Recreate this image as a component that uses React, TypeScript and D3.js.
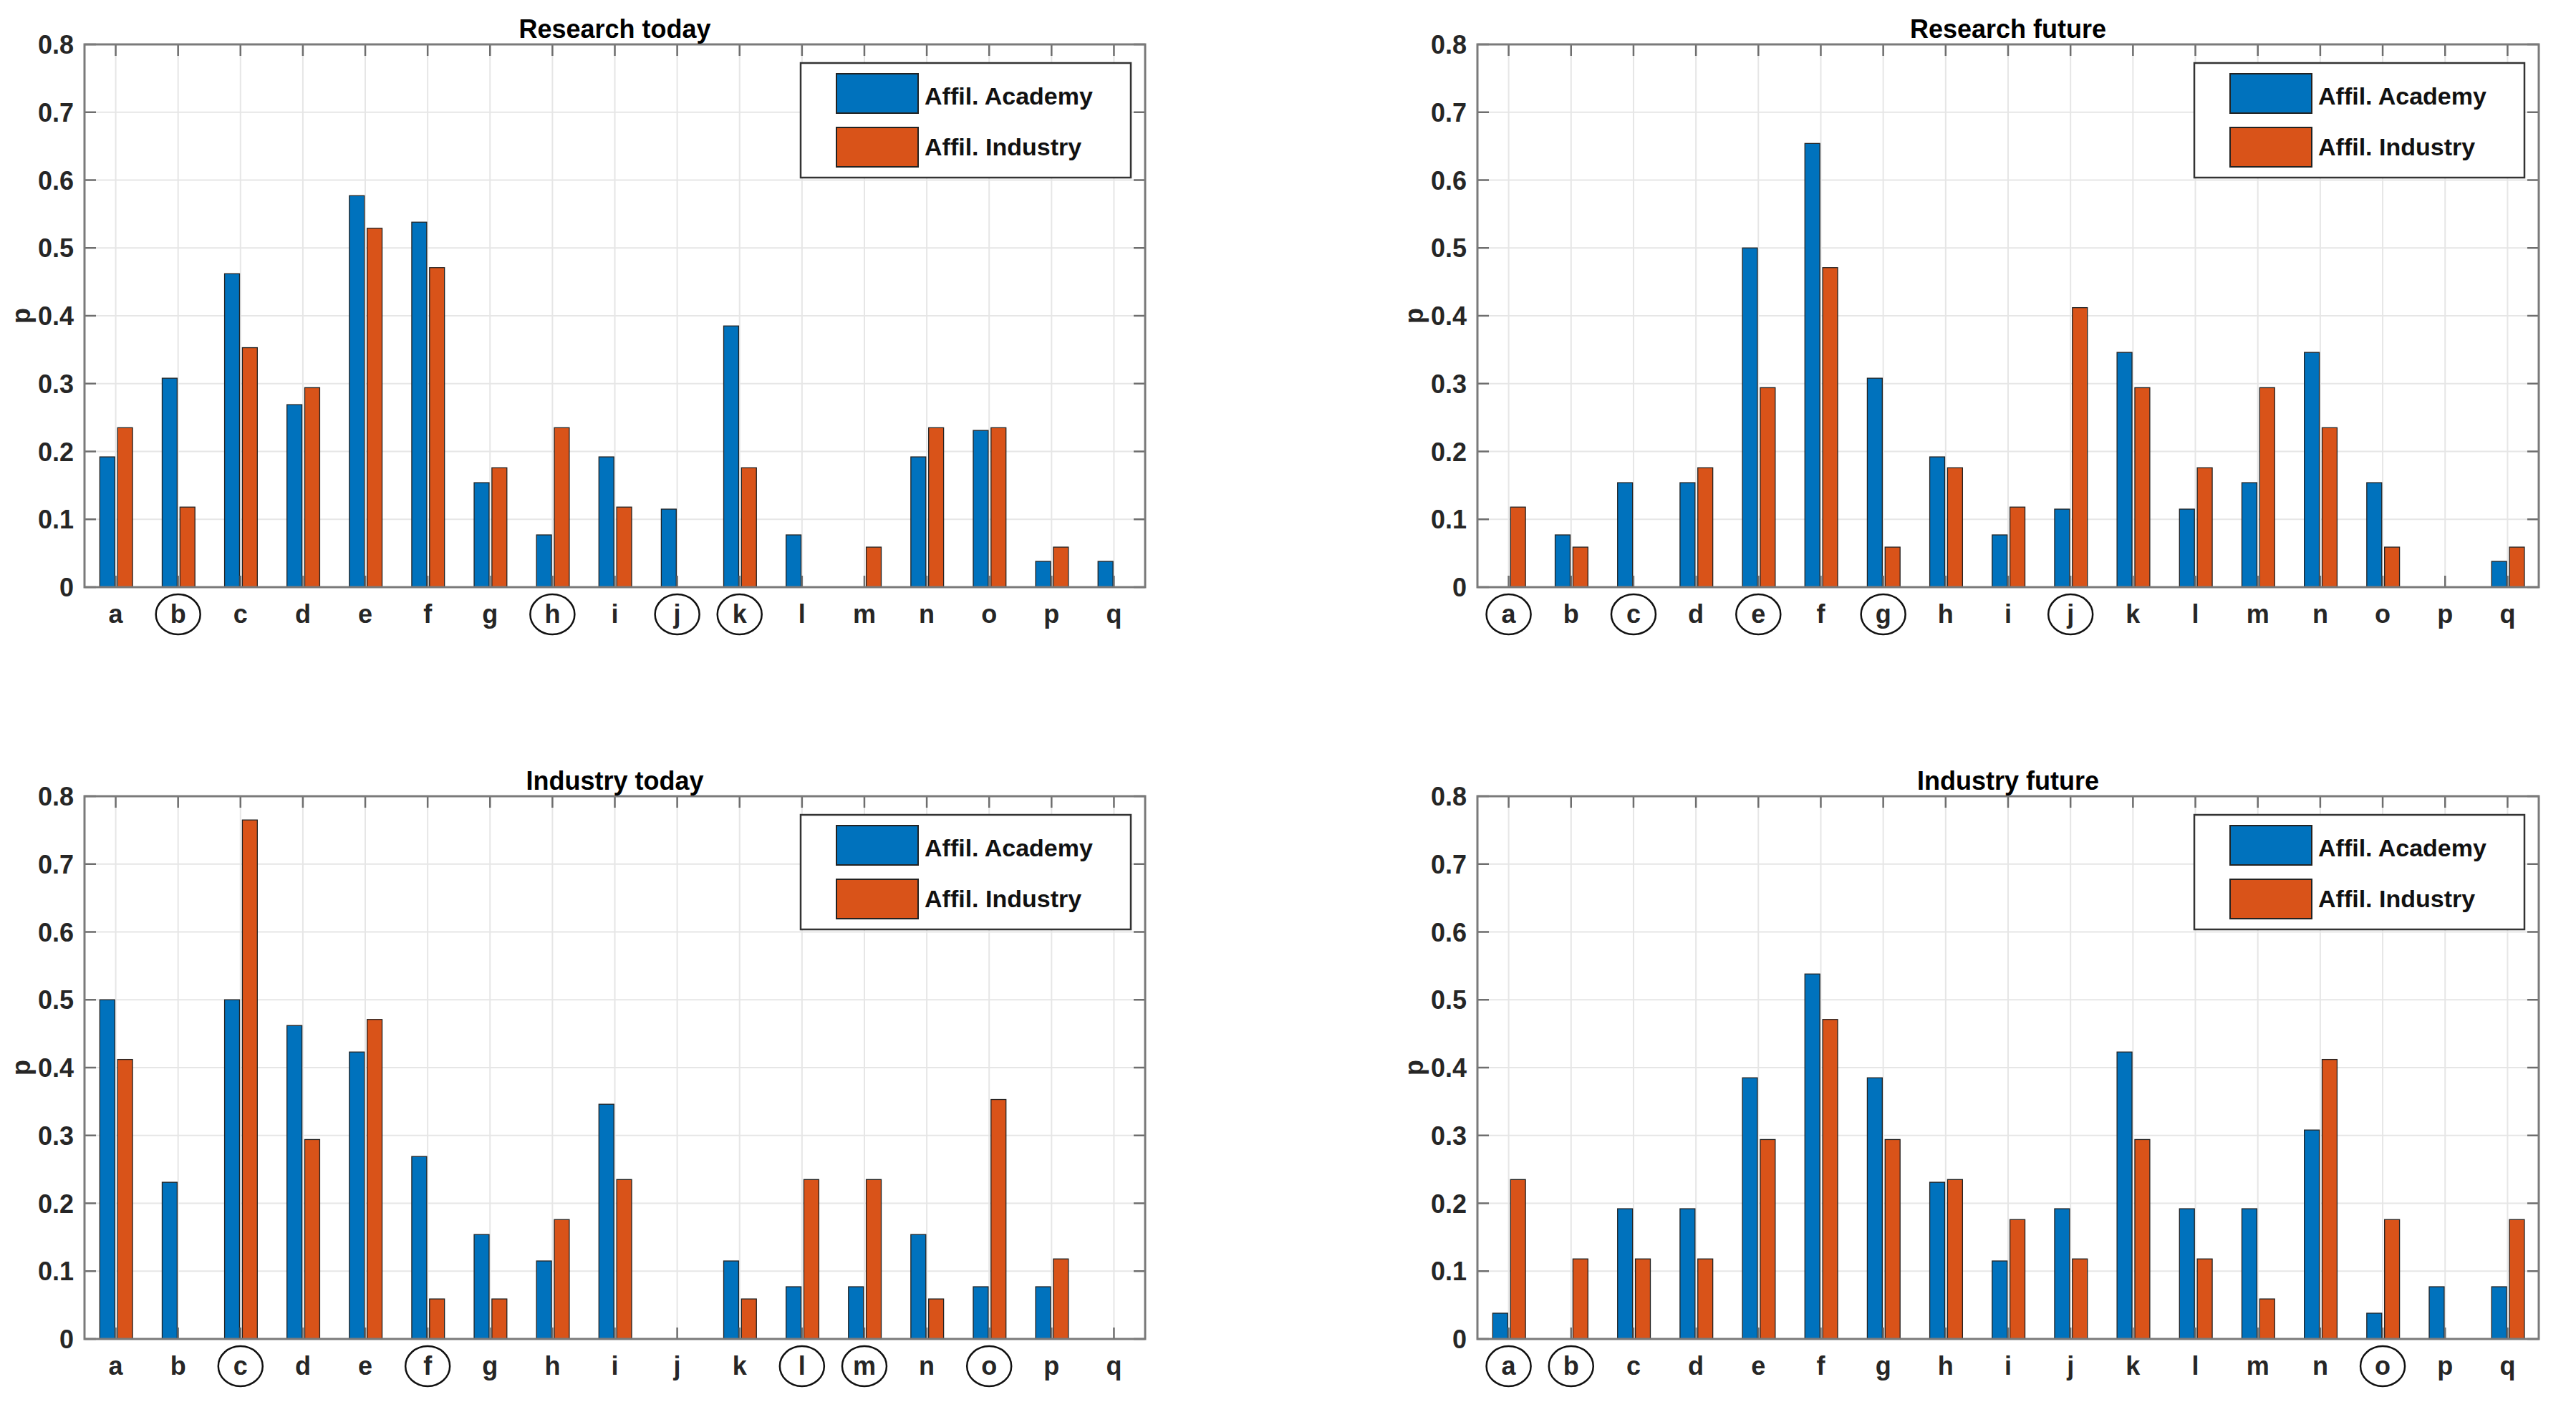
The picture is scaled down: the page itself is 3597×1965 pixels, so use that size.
import React, { useEffect, useRef } from 'react';
import * as d3 from 'd3';

const categories = ['a', 'b', 'c', 'd', 'e', 'f', 'g', 'h', 'i', 'j', 'k', 'l', 'm', 'n', 'o', 'p', 'q'];
const seriesNames = ['Affil. Academy', 'Affil. Industry'];
const seriesColors = ['#0072BD', '#D95319'];
const yTicks = [0, 0.1, 0.2, 0.3, 0.4, 0.5, 0.6, 0.7, 0.8];

// Research today
const researchTodayAcademy = [0.192, 0.308, 0.462, 0.269, 0.577, 0.538, 0.154, 0.077, 0.192, 0.115, 0.385, 0.077, 0, 0.192, 0.231, 0.038, 0.038];
const researchTodayIndustry = [0.235, 0.118, 0.353, 0.294, 0.529, 0.471, 0.176, 0.235, 0.118, 0, 0.176, 0, 0.059, 0.235, 0.235, 0.059, 0];
const researchTodayCircled = ['b', 'h', 'j', 'k'];

// Research future
const researchFutureAcademy = [0, 0.077, 0.154, 0.154, 0.5, 0.654, 0.308, 0.192, 0.077, 0.115, 0.346, 0.115, 0.154, 0.346, 0.154, 0, 0.038];
const researchFutureIndustry = [0.118, 0.059, 0, 0.176, 0.294, 0.471, 0.059, 0.176, 0.118, 0.412, 0.294, 0.176, 0.294, 0.235, 0.059, 0, 0.059];
const researchFutureCircled = ['a', 'c', 'e', 'g', 'j'];

// Industry today
const industryTodayAcademy = [0.5, 0.231, 0.5, 0.462, 0.423, 0.269, 0.154, 0.115, 0.346, 0, 0.115, 0.077, 0.077, 0.154, 0.077, 0.077, 0];
const industryTodayIndustry = [0.412, 0, 0.765, 0.294, 0.471, 0.059, 0.059, 0.176, 0.235, 0, 0.059, 0.235, 0.235, 0.059, 0.353, 0.118, 0];
const industryTodayCircled = ['c', 'f', 'l', 'm', 'o'];

// Industry future
const industryFutureAcademy = [0.038, 0, 0.192, 0.192, 0.385, 0.538, 0.385, 0.231, 0.115, 0.192, 0.423, 0.192, 0.192, 0.308, 0.038, 0.077, 0.077];
const industryFutureIndustry = [0.235, 0.118, 0.118, 0.118, 0.294, 0.471, 0.294, 0.235, 0.176, 0.118, 0.294, 0.118, 0.059, 0.412, 0.176, 0, 0.176];
const industryFutureCircled = ['a', 'b', 'o'];

const W = 3597;
const H = 1965;
const FONT = '"Liberation Sans", Arial, Helvetica, sans-serif';

const panels = [
  { title: 'Research today', series: [researchTodayAcademy, researchTodayIndustry], circled: researchTodayCircled, col: 0, row: 0 },
  { title: 'Research future', series: [researchFutureAcademy, researchFutureIndustry], circled: researchFutureCircled, col: 1, row: 0 },
  { title: 'Industry today', series: [industryTodayAcademy, industryTodayIndustry], circled: industryTodayCircled, col: 0, row: 1 },
  { title: 'Industry future', series: [industryFutureAcademy, industryFutureIndustry], circled: industryFutureCircled, col: 1, row: 1 },
];

const cols = [{ left: 118, right: 1599 }, { left: 2063, right: 3545 }];
const rows = [{ top: 62, bottom: 820 }, { top: 1112, bottom: 1870 }];

const App: React.FC = () => {
  const svgRef = useRef<SVGSVGElement | null>(null);

  useEffect(() => {
    document.body.style.margin = '0';
    if (!svgRef.current) return;
    const svg = d3.select(svgRef.current);
    svg.selectAll('*').remove();

    svg.append('rect').attr('width', W).attr('height', H).attr('fill', '#ffffff');

    panels.forEach((p) => {
      const { left, right } = cols[p.col];
      const { top, bottom } = rows[p.row];
      const idx = categories.map((_, i) => i + 1);

      const x = d3.scaleLinear().domain([0.5, categories.length + 0.5]).range([left, right]);
      const y = d3.scaleLinear().domain([0, 0.8]).range([bottom, top]);
      const step = x(2) - x(1);
      const barW = step * 0.24;
      const offsets = [-0.255 * step, 0.03 * step];

      const g = svg.append('g');

      // grid
      g.selectAll('.vgrid')
        .data(idx)
        .enter()
        .append('line')
        .attr('x1', (d) => x(d))
        .attr('x2', (d) => x(d))
        .attr('y1', top)
        .attr('y2', bottom)
        .style('stroke', '#e6e6e6')
        .style('stroke-width', 2);
      g.selectAll('.hgrid')
        .data(yTicks)
        .enter()
        .append('line')
        .attr('x1', left)
        .attr('x2', right)
        .attr('y1', (d) => y(d))
        .attr('y2', (d) => y(d))
        .style('stroke', '#e6e6e6')
        .style('stroke-width', 2);

      // bars
      p.series.forEach((vals, s) => {
        g.selectAll(`.bar${s}`)
          .data(vals.map((v, i) => ({ v, i })).filter((d) => d.v > 0))
          .enter()
          .append('rect')
          .attr('x', (d) => x(d.i + 1) + offsets[s])
          .attr('y', (d) => y(d.v))
          .attr('width', barW)
          .attr('height', (d) => y(0) - y(d.v))
          .style('fill', seriesColors[s])
          .style('stroke', '#222')
          .style('stroke-width', 1.3);
      });

      // ticks
      const tickLen = 16;
      const tickColor = '#6e6e6e';
      idx.forEach((d) => {
        g.append('line').attr('x1', x(d)).attr('x2', x(d)).attr('y1', bottom).attr('y2', bottom - tickLen)
          .style('stroke', tickColor).style('stroke-width', 2.5);
        g.append('line').attr('x1', x(d)).attr('x2', x(d)).attr('y1', top).attr('y2', top + tickLen)
          .style('stroke', tickColor).style('stroke-width', 2.5);
      });
      yTicks.forEach((d) => {
        g.append('line').attr('x1', left).attr('x2', left + tickLen).attr('y1', y(d)).attr('y2', y(d))
          .style('stroke', tickColor).style('stroke-width', 2.5);
        g.append('line').attr('x1', right).attr('x2', right - tickLen).attr('y1', y(d)).attr('y2', y(d))
          .style('stroke', tickColor).style('stroke-width', 2.5);
      });

      // axes box
      g.append('rect')
        .attr('x', left)
        .attr('y', top)
        .attr('width', right - left)
        .attr('height', bottom - top)
        .style('fill', 'none')
        .style('stroke', '#7a7a7a')
        .style('stroke-width', 3);

      // y tick labels
      g.selectAll('.ylab')
        .data(yTicks)
        .enter()
        .append('text')
        .attr('x', left - 15)
        .attr('y', (d) => y(d) + 13)
        .attr('text-anchor', 'end')
        .style('font-family', FONT)
        .style('font-weight', 'bold')
        .style('font-size', '36px')
        .style('fill', '#262626')
        .text((d) => (d === 0 ? '0' : d3.format('.1f')(d)));

      // x tick labels
      g.selectAll('.xlab')
        .data(categories)
        .enter()
        .append('text')
        .attr('x', (_, i) => x(i + 1))
        .attr('y', bottom + 50)
        .attr('text-anchor', 'middle')
        .style('font-family', FONT)
        .style('font-weight', 'bold')
        .style('font-size', '36px')
        .style('fill', '#262626')
        .text((d) => d);

      // circled labels
      g.selectAll('.circ')
        .data(p.circled)
        .enter()
        .append('ellipse')
        .attr('cx', (d) => x(categories.indexOf(d) + 1))
        .attr('cy', bottom + 38)
        .attr('rx', 31)
        .attr('ry', 28)
        .style('fill', 'none')
        .style('stroke', '#111')
        .style('stroke-width', 2.5);

      // y axis label
      g.append('text')
        .attr('transform', `translate(${left - 76},${(top + bottom) / 2}) rotate(-90)`)
        .attr('text-anchor', 'middle')
        .style('font-family', FONT)
        .style('font-weight', 'bold')
        .style('font-size', '36px')
        .style('fill', '#262626')
        .text('p');

      // title
      g.append('text')
        .attr('x', (left + right) / 2)
        .attr('y', top - 9)
        .attr('text-anchor', 'middle')
        .style('font-family', FONT)
        .style('font-weight', 'bold')
        .style('font-size', '36px')
        .style('fill', '#000')
        .text(p.title);

      // legend
      const lx = right - 481;
      const ly = top + 26;
      const lg = g.append('g');
      lg.append('rect')
        .attr('x', lx)
        .attr('y', ly)
        .attr('width', 461)
        .attr('height', 160)
        .style('fill', '#fff')
        .style('stroke', '#333')
        .style('stroke-width', 2.5);
      seriesNames.forEach((name, s) => {
        lg.append('rect')
          .attr('x', lx + 50)
          .attr('y', ly + 15 + s * 75)
          .attr('width', 114)
          .attr('height', 55)
          .style('fill', seriesColors[s])
          .style('stroke', '#222')
          .style('stroke-width', 2);
        lg.append('text')
          .attr('x', lx + 173)
          .attr('y', ly + 58 + s * 71)
          .style('font-family', FONT)
          .style('font-weight', 'bold')
          .style('font-size', '34px')
          .style('fill', '#111')
          .text(name);
      });
    });
  }, []);

  return <svg ref={svgRef} width={W} height={H} style={{ display: 'block' }}></svg>;
};

export default App;
